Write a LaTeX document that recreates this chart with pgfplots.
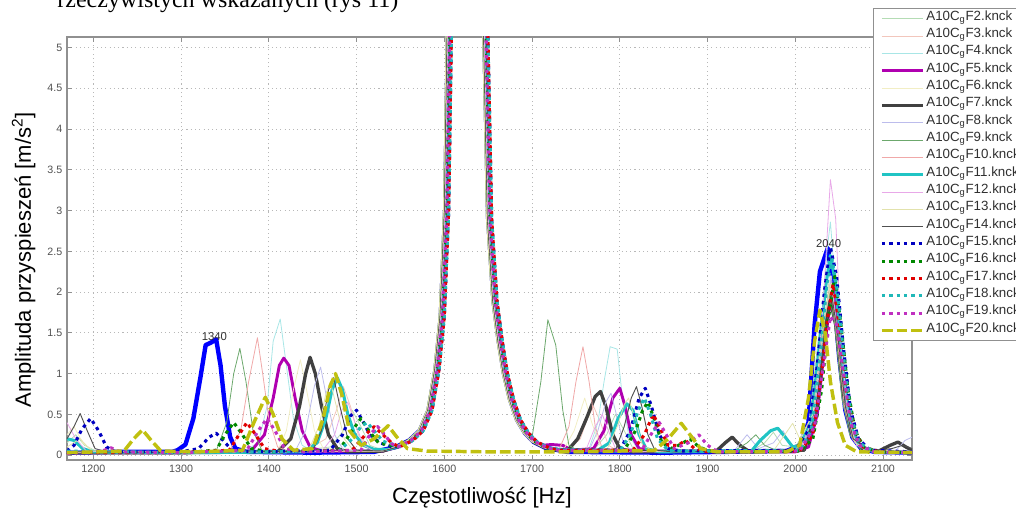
\documentclass[border=0pt]{standalone}
\usepackage{fontspec}
\setmainfont{Liberation Sans}
\newfontfamily\seriffont{Liberation Serif}
\usepackage{pgfplots}
\pgfplotsset{compat=1.18}
\definecolor{cF1}{HTML}{0000FF}
\definecolor{cF2}{HTML}{B4DCB4}
\definecolor{cF3}{HTML}{F2C6BC}
\definecolor{cF4}{HTML}{A8E6E6}
\definecolor{cF5}{HTML}{B000B0}
\definecolor{cF6}{HTML}{F2EEC4}
\definecolor{cF7}{HTML}{404040}
\definecolor{cF8}{HTML}{BCBCEC}
\definecolor{cF9}{HTML}{6CA86C}
\definecolor{cF10}{HTML}{F0A8A8}
\definecolor{cF11}{HTML}{20C4C4}
\definecolor{cF12}{HTML}{E8A8E8}
\definecolor{cF13}{HTML}{E2E2AC}
\definecolor{cF14}{HTML}{505050}
\definecolor{cF15}{HTML}{0000C0}
\definecolor{cF16}{HTML}{008800}
\definecolor{cF17}{HTML}{E00000}
\definecolor{cF18}{HTML}{20B8B8}
\definecolor{cF19}{HTML}{C030C0}
\definecolor{cF20}{HTML}{C0C010}
\definecolor{tickgray}{HTML}{505050}
\definecolor{gridgray}{HTML}{B8B8B8}
\definecolor{axisgray}{HTML}{909090}
\definecolor{legtext}{HTML}{303030}
\pgfplotsset{
  thinline/.style={line width=0.6pt},
  dotline/.style={line width=2.3pt, dash pattern=on 2.5pt off 3pt},
}
\begin{document}
\begin{tikzpicture}
\path[use as bounding box] (0,0) rectangle (762pt,380.25pt);
\clip (0,0) rectangle (762pt,380.25pt);
\node[anchor=base east, font=\seriffont\fontsize{18}{20}\selectfont, text=black, inner sep=0pt] at (299pt,374.5pt) {rzeczywistych wskazanych (rys 11)};
\begin{axis}[
  at={(50.25pt,35.25pt)}, anchor=south west,
  scale only axis, width=633.75pt, height=317.25pt,
  xmin=1170, xmax=2133, ymin=-0.06, ymax=5.13,
  xtick={1200,1300,...,2100}, ytick={0,0.5,...,5},
  scaled x ticks=false, scaled y ticks=false,
  /pgf/number format/1000 sep={},
  /pgf/number format/assume math mode=true,
  tick label style={font=\fontsize{8}{9.6}\selectfont, text=tickgray},
  grid=major,
  major grid style={gridgray, line width=0.6pt, dash pattern=on 0.8pt off 2.4pt},
  axis line style={axisgray, line width=0.8pt},
  major tick style={axisgray, line width=0.6pt}, major tick length=3.5pt,
  xlabel={Częstotliwość [Hz]},
  ylabel={Amplituda przyspieszeń [m/s\textsuperscript{2}]},
  label style={font=\fontsize{16.5}{19}\selectfont},
  xlabel style={at={(axis description cs:0.491,-0.1017)}, anchor=base},
  ylabel style={at={(axis description cs:-0.0426,0.473)}, anchor=base},
  legend style={at={(0.9538,1.0686)}, anchor=north west, draw=axisgray, line width=0.9pt, fill=white,
    inner xsep=5pt, inner ysep=1pt, font=\fontsize{10}{11}\selectfont, text=legtext,
    cells={anchor=west}, nodes={inner sep=1pt, text height=6.6pt, text depth=4.4pt}, row sep=0pt,
    /tikz/every even column/.append style={column sep=1pt}},
  legend image code/.code={\draw[#1] (0pt,0pt) -- (31pt,0pt);},
  every axis plot/.append style={line join=round},
]
% F1 blue thick solid
\addplot[cF1, line width=3.3pt, forget plot] coordinates {(1170,0.03)(1230,0.04)(1290,0.04)(1296,0.06)(1305,0.13)(1314,0.45)(1322,0.95)(1328,1.35)(1334,1.38)(1340,1.42)(1345,1.1)(1350,0.6)(1356,0.22)(1362,0.08)(1375,0.04)(1450,0.03)(1520,0.04)(1545,0.1)(1560,0.18)(1572,0.3)(1582,0.55)(1590,1.05)(1596,1.7)(1601,3)(1606,6.5)(1615,13)(1628,15)(1640,10)(1645,5.5)(1650,2.9)(1656,1.9)(1662,1.4)(1668,1)(1675,0.68)(1683,0.43)(1692,0.27)(1702,0.16)(1715,0.09)(1740,0.04)(1850,0.03)(1990,0.05)(2005,0.12)(2015,0.4)(2022,1.6)(2028,2.25)(2037,2.54)(2043,2.1)(2050,1.2)(2057,0.55)(2065,0.22)(2075,0.08)(2090,0.04)(2133,0.03)};
% F2
\addplot[cF2, thinline] coordinates {(1170,0.15)(1180,0.25)(1190,0.12)(1205,0.04)(1300,0.03)(1420,0.04)(1470,0.1)(1485,0.3)(1495,0.55)(1505,0.35)(1515,0.12)(1530,0.06)(1547,0.1)(1562,0.18)(1574,0.3)(1584,0.55)(1592,1.05)(1598,1.7)(1603,3)(1608,6.5)(1617,13)(1630,15)(1642,10)(1647,5.5)(1652,2.9)(1658,1.9)(1664,1.4)(1670,1)(1677,0.68)(1685,0.43)(1694,0.27)(1704,0.16)(1717,0.09)(1730,0.06)(1770,0.06)(1785,0.25)(1795,0.5)(1805,0.3)(1815,0.08)(1830,0.04)(1950,0.05)(1965,0.15)(1975,0.28)(1985,0.12)(2000,0.1)(2015,0.35)(2028,1.6)(2038,2.1)(2046,1.5)(2055,0.6)(2065,0.2)(2080,0.06)(2133,0.04)};
\addlegendentry{A10C\textsubscript{g}F2.knck}
% F3
\addplot[cF3, thinline] coordinates {(1170,0.04)(1300,0.03)(1440,0.04)(1465,0.2)(1477,0.55)(1485,0.84)(1493,0.6)(1502,0.25)(1515,0.08)(1530,0.05)(1543,0.1)(1558,0.18)(1570,0.3)(1580,0.55)(1588,1.05)(1594,1.7)(1599,3)(1604,6.5)(1613,13)(1626,15)(1638,10)(1643,5.5)(1648,2.9)(1654,1.9)(1660,1.4)(1666,1)(1673,0.68)(1681,0.43)(1690,0.27)(1700,0.16)(1713,0.09)(1740,0.05)(1755,0.2)(1763,0.45)(1770,0.6)(1778,0.4)(1787,0.12)(1800,0.04)(2000,0.05)(2020,0.5)(2030,1.5)(2040,2.0)(2048,1.4)(2058,0.5)(2070,0.15)(2090,0.04)(2133,0.03)};
\addlegendentry{A10C\textsubscript{g}F3.knck}
% F4
\addplot[cF4, thinline] coordinates {(1170,0.05)(1300,0.04)(1370,0.04)(1388,0.15)(1398,0.6)(1405,1.4)(1413,1.67)(1420,1.1)(1428,0.45)(1438,0.12)(1450,0.05)(1530,0.05)(1545,0.1)(1560,0.18)(1572,0.3)(1582,0.55)(1590,1.05)(1596,1.7)(1601,3)(1606,6.5)(1615,13)(1628,15)(1640,10)(1645,5.5)(1650,2.9)(1656,1.9)(1662,1.4)(1668,1)(1675,0.68)(1683,0.43)(1692,0.27)(1702,0.16)(1715,0.09)(1740,0.04)(1765,0.08)(1775,0.4)(1782,0.9)(1789,1.33)(1797,1.3)(1803,0.7)(1810,0.25)(1820,0.08)(1835,0.04)(2000,0.05)(2020,0.4)(2030,1.6)(2036,2.5)(2040,2.86)(2044,2.3)(2052,1.2)(2060,0.45)(2070,0.15)(2085,0.05)(2133,0.04)};
\addlegendentry{A10C\textsubscript{g}F4.knck}
% F5
\addplot[cF5, line width=2.2pt] coordinates {(1170,0.03)(1300,0.03)(1380,0.05)(1395,0.25)(1405,0.7)(1412,1.1)(1417,1.19)(1423,1.1)(1430,0.7)(1438,0.3)(1447,0.1)(1460,0.05)(1530,0.05)(1547,0.1)(1562,0.18)(1574,0.3)(1584,0.55)(1592,1.05)(1598,1.7)(1603,3)(1608,6.5)(1617,13)(1630,15)(1642,10)(1647,5.5)(1652,2.9)(1658,1.9)(1664,1.4)(1670,1)(1677,0.68)(1685,0.43)(1694,0.27)(1704,0.16)(1712,0.12)(1722,0.13)(1735,0.12)(1745,0.06)(1770,0.08)(1782,0.3)(1792,0.7)(1800,0.82)(1806,0.6)(1813,0.25)(1822,0.08)(1840,0.05)(2000,0.04)(2015,0.1)(2025,0.5)(2033,1.3)(2040,1.9)(2045,2.0)(2050,1.5)(2057,0.8)(2065,0.3)(2075,0.1)(2090,0.04)(2133,0.03)};
\addlegendentry{A10C\textsubscript{g}F5.knck}
% F6
\addplot[cF6, thinline] coordinates {(1170,0.25)(1178,0.35)(1188,0.15)(1200,0.05)(1300,0.04)(1410,0.05)(1420,0.3)(1428,0.8)(1436,1.17)(1443,0.8)(1452,0.3)(1462,0.08)(1530,0.05)(1543,0.1)(1558,0.18)(1570,0.3)(1580,0.55)(1588,1.05)(1594,1.7)(1599,3)(1604,6.5)(1613,13)(1626,15)(1638,10)(1643,5.5)(1648,2.9)(1654,1.9)(1660,1.4)(1666,1)(1673,0.68)(1681,0.43)(1690,0.27)(1700,0.16)(1713,0.09)(1735,0.05)(1748,0.3)(1760,0.7)(1768,0.4)(1778,0.1)(1790,0.04)(2000,0.05)(2020,0.5)(2032,1.6)(2040,2.2)(2048,1.5)(2058,0.5)(2070,0.12)(2090,0.05)(2133,0.04)};
\addlegendentry{A10C\textsubscript{g}F6.knck}
% F7
\addplot[cF7, line width=2.5pt] coordinates {(1170,0.03)(1300,0.03)(1410,0.04)(1425,0.2)(1435,0.6)(1442,1.0)(1447,1.2)(1453,1.0)(1460,0.6)(1468,0.25)(1478,0.08)(1490,0.04)(1530,0.05)(1545,0.1)(1560,0.18)(1572,0.3)(1582,0.55)(1590,1.05)(1596,1.7)(1601,3)(1606,6.5)(1615,13)(1628,15)(1640,10)(1645,5.5)(1650,2.9)(1656,1.9)(1662,1.4)(1668,1)(1675,0.68)(1683,0.43)(1692,0.27)(1702,0.16)(1715,0.09)(1740,0.05)(1752,0.2)(1762,0.45)(1772,0.72)(1778,0.78)(1784,0.6)(1792,0.25)(1800,0.08)(1815,0.04)(1910,0.05)(1920,0.15)(1928,0.22)(1937,0.12)(1948,0.04)(2010,0.06)(2025,0.6)(2033,1.5)(2040,1.9)(2046,1.6)(2054,0.8)(2063,0.3)(2075,0.08)(2095,0.05)(2108,0.12)(2117,0.16)(2126,0.1)(2133,0.06)};
\addlegendentry{A10C\textsubscript{g}F7.knck}
% F8
\addplot[cF8, thinline] coordinates {(1170,0.03)(1300,0.03)(1430,0.05)(1442,0.3)(1452,0.85)(1459,1.08)(1466,0.7)(1475,0.25)(1485,0.06)(1530,0.05)(1547,0.1)(1562,0.18)(1574,0.3)(1584,0.55)(1592,1.05)(1598,1.7)(1603,3)(1608,6.5)(1617,13)(1630,15)(1642,10)(1647,5.5)(1652,2.9)(1658,1.9)(1664,1.4)(1670,1)(1677,0.68)(1685,0.43)(1694,0.27)(1704,0.16)(1717,0.09)(1740,0.04)(1765,0.06)(1775,0.3)(1784,0.65)(1790,0.76)(1796,0.5)(1804,0.15)(1815,0.04)(1930,0.05)(1945,0.25)(1958,0.08)(1975,0.15)(1986,0.3)(1995,0.12)(2010,0.1)(2025,0.8)(2035,1.8)(2041,2.2)(2048,1.5)(2057,0.6)(2066,0.2)(2080,0.06)(2115,0.06)(2125,0.18)(2133,0.22)};
\addlegendentry{A10C\textsubscript{g}F8.knck}
% F9
\addplot[cF9, thinline] coordinates {(1170,0.04)(1300,0.04)(1340,0.05)(1352,0.4)(1360,1.0)(1367,1.31)(1374,0.9)(1382,0.3)(1392,0.06)(1410,0.04)(1530,0.05)(1543,0.1)(1558,0.18)(1570,0.3)(1580,0.55)(1588,1.05)(1594,1.7)(1599,3)(1604,6.5)(1613,13)(1626,15)(1638,10)(1643,5.5)(1648,2.9)(1654,1.9)(1660,1.4)(1666,1)(1673,0.68)(1681,0.43)(1690,0.27)(1700,0.22)(1710,0.9)(1718,1.66)(1727,1.35)(1735,0.55)(1742,0.12)(1755,0.04)(1930,0.05)(1945,0.15)(1955,0.25)(1965,0.12)(1980,0.05)(2005,0.08)(2020,0.5)(2030,1.4)(2038,2.0)(2045,1.6)(2053,0.7)(2062,0.25)(2075,0.06)(2133,0.04)};
\addlegendentry{A10C\textsubscript{g}F9.knck}
% F10
\addplot[cF10, thinline] coordinates {(1170,0.03)(1300,0.03)(1355,0.05)(1368,0.3)(1377,0.9)(1387,1.44)(1393,1.0)(1400,0.45)(1410,0.1)(1425,0.04)(1530,0.05)(1545,0.1)(1560,0.18)(1572,0.3)(1582,0.55)(1590,1.05)(1596,1.7)(1601,3)(1606,6.5)(1615,13)(1628,15)(1640,10)(1645,5.5)(1650,2.9)(1656,1.9)(1662,1.4)(1668,1)(1675,0.68)(1683,0.43)(1692,0.27)(1702,0.16)(1715,0.09)(1730,0.05)(1742,0.35)(1750,0.9)(1758,1.33)(1765,0.9)(1772,0.35)(1780,0.08)(1795,0.04)(2005,0.06)(2022,0.6)(2032,1.6)(2040,2.1)(2047,1.5)(2056,0.6)(2066,0.18)(2080,0.05)(2133,0.04)};
\addlegendentry{A10C\textsubscript{g}F10.knck}
% F11
\addplot[cF11, line width=2.3pt] coordinates {(1170,0.2)(1178,0.18)(1188,0.08)(1200,0.04)(1300,0.03)(1440,0.04)(1455,0.15)(1465,0.45)(1472,0.8)(1478,0.95)(1484,0.8)(1490,0.5)(1498,0.25)(1508,0.12)(1520,0.07)(1535,0.07)(1547,0.1)(1562,0.18)(1574,0.3)(1584,0.55)(1592,1.05)(1598,1.7)(1603,3)(1608,6.5)(1617,13)(1630,15)(1642,10)(1647,5.5)(1652,2.9)(1658,1.9)(1664,1.4)(1670,1)(1677,0.68)(1685,0.43)(1694,0.27)(1704,0.16)(1717,0.09)(1730,0.07)(1775,0.06)(1788,0.15)(1798,0.45)(1808,0.63)(1815,0.55)(1822,0.25)(1830,0.08)(1845,0.04)(1950,0.05)(1960,0.18)(1972,0.3)(1980,0.33)(1990,0.2)(1997,0.1)(2005,0.12)(2018,0.4)(2028,1.4)(2035,2.1)(2040,2.45)(2046,2.1)(2054,1.1)(2062,0.4)(2072,0.12)(2090,0.04)(2133,0.03)};
\addlegendentry{A10C\textsubscript{g}F11.knck}
% F12
\addplot[cF12, thinline] coordinates {(1170,0.4)(1180,0.2)(1192,0.05)(1300,0.03)(1460,0.04)(1475,0.25)(1483,0.55)(1490,0.65)(1498,0.4)(1508,0.12)(1520,0.05)(1530,0.05)(1545,0.1)(1560,0.18)(1572,0.3)(1582,0.55)(1590,1.05)(1596,1.7)(1601,3)(1606,6.5)(1615,13)(1628,15)(1640,10)(1645,5.5)(1650,2.9)(1656,1.9)(1662,1.4)(1668,1)(1675,0.68)(1683,0.43)(1692,0.27)(1702,0.16)(1715,0.09)(1740,0.04)(1762,0.08)(1772,0.35)(1780,0.5)(1787,0.3)(1795,0.08)(1810,0.04)(2005,0.06)(2022,0.5)(2032,1.9)(2040,3.38)(2046,2.9)(2052,1.4)(2060,0.45)(2070,0.12)(2090,0.04)(2133,0.03)};
\addlegendentry{A10C\textsubscript{g}F12.knck}
% F13
\addplot[cF13, thinline] coordinates {(1170,0.1)(1185,0.2)(1198,0.05)(1300,0.03)(1445,0.05)(1457,0.35)(1465,0.75)(1470,0.9)(1477,0.6)(1486,0.2)(1497,0.05)(1530,0.05)(1543,0.1)(1558,0.18)(1570,0.3)(1580,0.55)(1588,1.05)(1594,1.7)(1599,3)(1604,6.5)(1613,13)(1626,15)(1638,10)(1643,5.5)(1648,2.9)(1654,1.9)(1660,1.4)(1666,1)(1673,0.68)(1681,0.43)(1690,0.27)(1700,0.16)(1713,0.09)(1740,0.04)(1785,0.06)(1797,0.35)(1805,0.62)(1810,0.7)(1817,0.45)(1826,0.12)(1840,0.04)(1975,0.05)(1988,0.25)(1997,0.39)(2005,0.2)(2020,0.5)(2032,1.6)(2040,2.1)(2048,1.5)(2057,0.6)(2068,0.15)(2085,0.06)(2133,0.05)};
\addlegendentry{A10C\textsubscript{g}F13.knck}
% F14
\addplot[cF14, line width=0.7pt] coordinates {(1170,0.2)(1178,0.35)(1185,0.51)(1193,0.3)(1202,0.08)(1215,0.04)(1300,0.03)(1450,0.05)(1460,0.3)(1468,0.8)(1474,0.95)(1481,0.6)(1490,0.2)(1500,0.06)(1530,0.05)(1547,0.1)(1562,0.18)(1574,0.3)(1584,0.55)(1592,1.05)(1598,1.7)(1603,3)(1608,6.5)(1617,13)(1630,15)(1642,10)(1647,5.5)(1652,2.9)(1658,1.9)(1664,1.4)(1670,1)(1677,0.68)(1685,0.43)(1694,0.27)(1704,0.16)(1717,0.09)(1740,0.04)(1795,0.06)(1805,0.35)(1813,0.7)(1819,0.84)(1825,0.6)(1832,0.25)(1840,0.06)(1860,0.04)(2010,0.05)(2024,0.5)(2034,1.5)(2041,2.0)(2048,1.5)(2057,0.6)(2066,0.2)(2085,0.05)(2110,0.08)(2122,0.12)(2133,0.08)};
\addlegendentry{A10C\textsubscript{g}F14.knck}
% F15
\addplot[cF15, dotline] coordinates {(1170,0.05)(1178,0.12)(1187,0.32)(1197,0.45)(1206,0.3)(1215,0.1)(1225,0.04)(1300,0.04)(1320,0.08)(1332,0.22)(1340,0.27)(1348,0.18)(1358,0.06)(1380,0.04)(1470,0.06)(1484,0.25)(1493,0.48)(1500,0.55)(1508,0.4)(1515,0.25)(1527,0.15)(1540,0.1)(1549,0.1)(1564,0.18)(1576,0.3)(1586,0.55)(1594,1.05)(1600,1.7)(1605,3)(1610,6.5)(1619,13)(1632,15)(1644,10)(1649,5.5)(1654,2.9)(1660,1.9)(1666,1.4)(1672,1)(1679,0.68)(1687,0.43)(1696,0.27)(1706,0.16)(1719,0.09)(1725,0.06)(1800,0.06)(1812,0.3)(1822,0.7)(1829,0.82)(1836,0.6)(1845,0.25)(1855,0.08)(1870,0.05)(2000,0.06)(2015,0.3)(2025,1.1)(2033,2.0)(2040,2.55)(2047,2.2)(2055,1.3)(2063,0.55)(2072,0.2)(2085,0.06)(2133,0.04)};
\addlegendentry{A10C\textsubscript{g}F15.knck}
% F16
\addplot[cF16, dotline] coordinates {(1170,0.03)(1300,0.03)(1340,0.06)(1350,0.25)(1360,0.4)(1370,0.25)(1380,0.08)(1400,0.04)(1480,0.06)(1495,0.3)(1505,0.45)(1514,0.3)(1525,0.15)(1540,0.12)(1547,0.1)(1562,0.18)(1574,0.3)(1584,0.55)(1592,1.05)(1598,1.7)(1603,3)(1608,6.5)(1617,13)(1630,15)(1642,10)(1647,5.5)(1652,2.9)(1658,1.9)(1664,1.4)(1670,1)(1677,0.68)(1685,0.43)(1694,0.27)(1704,0.16)(1717,0.09)(1730,0.06)(1805,0.06)(1818,0.3)(1826,0.55)(1832,0.65)(1839,0.45)(1848,0.15)(1860,0.08)(1872,0.15)(1880,0.2)(1890,0.1)(1905,0.04)(2005,0.05)(2020,0.2)(2030,0.8)(2038,1.7)(2045,2.2)(2052,1.6)(2060,0.8)(2068,0.3)(2078,0.1)(2095,0.04)(2133,0.03)};
\addlegendentry{A10C\textsubscript{g}F16.knck}
% F17
\addplot[cF17, dotline] coordinates {(1170,0.03)(1300,0.03)(1355,0.06)(1366,0.25)(1375,0.4)(1385,0.25)(1395,0.08)(1415,0.04)(1495,0.06)(1510,0.25)(1520,0.35)(1530,0.25)(1540,0.15)(1549,0.1)(1564,0.18)(1576,0.3)(1586,0.55)(1594,1.05)(1600,1.7)(1605,3)(1610,6.5)(1619,13)(1632,15)(1644,10)(1649,5.5)(1654,2.9)(1660,1.9)(1666,1.4)(1672,1)(1679,0.68)(1687,0.43)(1696,0.27)(1706,0.16)(1719,0.09)(1730,0.06)(1815,0.06)(1828,0.25)(1838,0.5)(1845,0.35)(1855,0.12)(1866,0.12)(1875,0.18)(1885,0.08)(1900,0.04)(2005,0.05)(2020,0.25)(2030,1.0)(2037,1.7)(2043,2.1)(2050,1.6)(2058,0.8)(2067,0.3)(2077,0.1)(2095,0.04)(2133,0.03)};
\addlegendentry{A10C\textsubscript{g}F17.knck}
% F18
\addplot[cF18, dotline] coordinates {(1170,0.05)(1300,0.03)(1480,0.05)(1495,0.2)(1505,0.35)(1512,0.4)(1520,0.3)(1530,0.17)(1545,0.12)(1549,0.1)(1564,0.18)(1576,0.3)(1586,0.55)(1594,1.05)(1600,1.7)(1605,3)(1610,6.5)(1619,13)(1632,15)(1644,10)(1649,5.5)(1654,2.9)(1660,1.9)(1666,1.4)(1672,1)(1679,0.68)(1687,0.43)(1696,0.27)(1706,0.16)(1719,0.09)(1730,0.06)(1800,0.05)(1812,0.25)(1821,0.55)(1828,0.7)(1835,0.5)(1843,0.2)(1855,0.06)(1880,0.05)(2005,0.06)(2018,0.3)(2028,1.2)(2036,2.1)(2042,2.4)(2048,2.0)(2056,1.1)(2064,0.45)(2073,0.15)(2090,0.04)(2133,0.03)};
\addlegendentry{A10C\textsubscript{g}F18.knck}
% F19
\addplot[cF19, dotline] coordinates {(1170,0.02)(1210,0.05)(1220,0.09)(1230,0.04)(1300,0.03)(1375,0.06)(1388,0.3)(1398,0.45)(1407,0.3)(1418,0.08)(1440,0.04)(1505,0.06)(1515,0.25)(1524,0.35)(1532,0.25)(1540,0.14)(1547,0.1)(1562,0.18)(1574,0.3)(1584,0.55)(1592,1.05)(1598,1.7)(1603,3)(1608,6.5)(1617,13)(1630,15)(1642,10)(1647,5.5)(1652,2.9)(1658,1.9)(1664,1.4)(1670,1)(1677,0.68)(1685,0.43)(1694,0.27)(1704,0.16)(1717,0.09)(1730,0.06)(1825,0.06)(1837,0.28)(1845,0.4)(1853,0.25)(1862,0.08)(1878,0.15)(1890,0.25)(1900,0.12)(1912,0.04)(2005,0.05)(2022,0.35)(2032,1.1)(2040,1.7)(2047,1.6)(2055,1.0)(2063,0.4)(2073,0.12)(2090,0.04)(2133,0.03)};
\addlegendentry{A10C\textsubscript{g}F19.knck}
% F20
\addplot[cF20, line width=2.6pt, dash pattern=on 8pt off 3pt] coordinates {(1170,0.03)(1235,0.05)(1246,0.2)(1256,0.31)(1266,0.18)(1277,0.05)(1320,0.04)(1370,0.06)(1383,0.4)(1396,0.71)(1405,0.5)(1415,0.2)(1428,0.06)(1450,0.08)(1462,0.45)(1470,0.85)(1476,1.0)(1483,0.75)(1492,0.3)(1505,0.12)(1520,0.2)(1536,0.36)(1546,0.22)(1558,0.08)(1580,0.05)(1650,0.04)(1760,0.04)(1840,0.06)(1855,0.2)(1870,0.39)(1880,0.25)(1892,0.08)(1910,0.04)(1990,0.04)(2005,0.12)(2015,0.7)(2022,1.4)(2028,1.78)(2034,1.5)(2040,0.9)(2048,0.4)(2057,0.12)(2070,0.04)(2133,0.03)};
\addlegendentry{A10C\textsubscript{g}F20.knck}
\node[font=\fontsize{8.5}{10}\selectfont, text=legtext] at (axis cs:1338,1.46) {1340};
\node[font=\fontsize{8.5}{10}\selectfont, text=legtext] at (axis cs:2038,2.59) {2040};
\end{axis}
\end{tikzpicture}
\end{document}
